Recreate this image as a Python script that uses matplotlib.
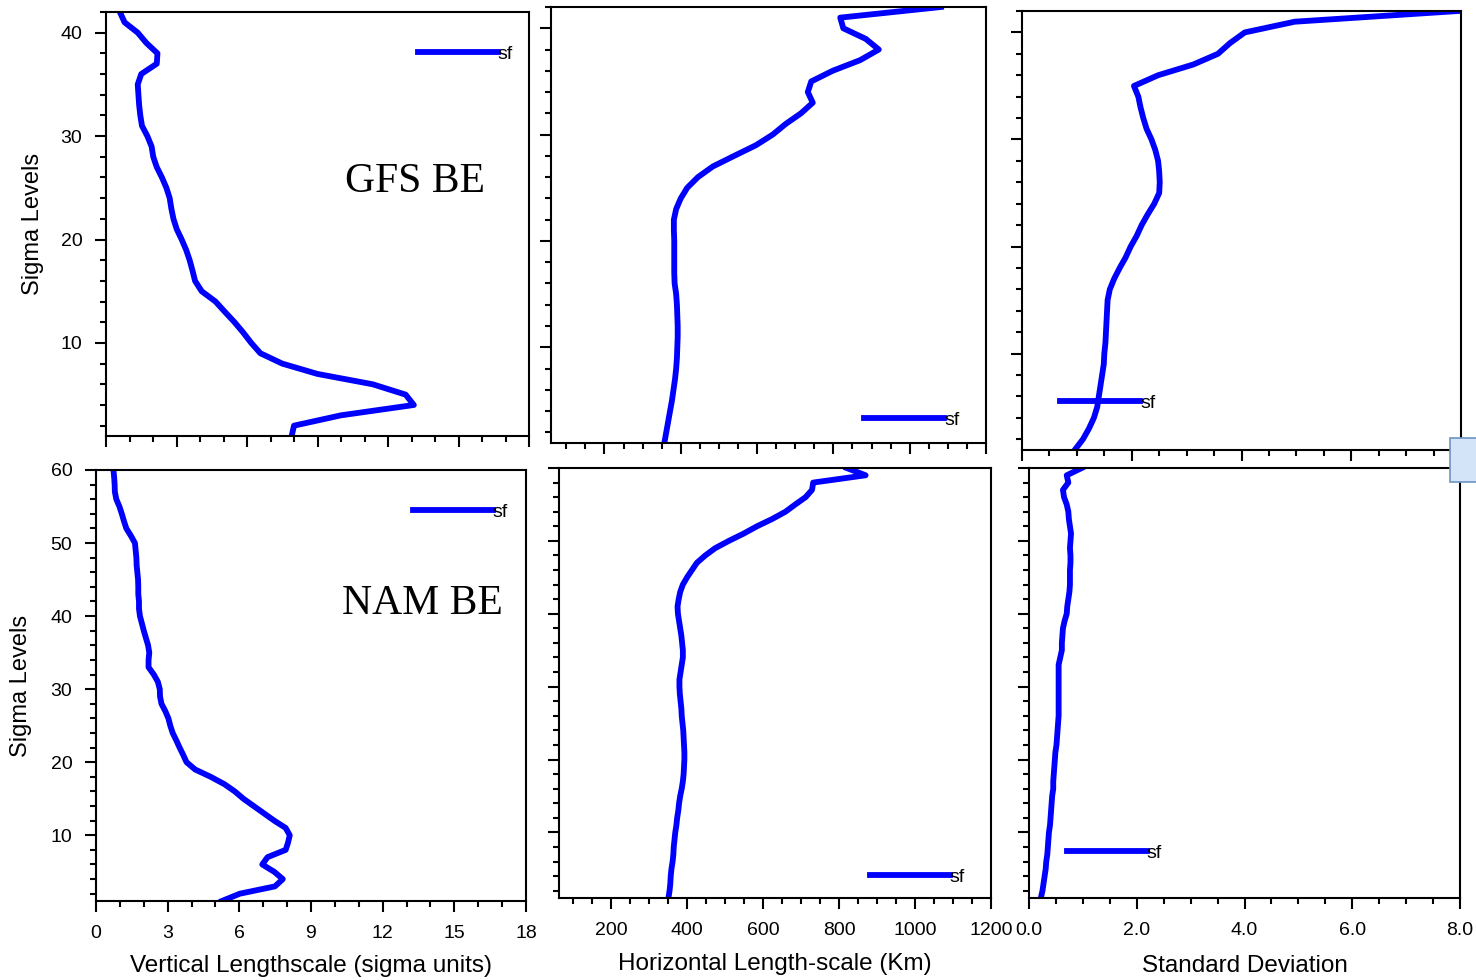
import numpy as np
import matplotlib.pyplot as plt
import matplotlib.patches as mpatches
from matplotlib.ticker import MultipleLocator, FormatStrFormatter

plt.rcParams['font.family'] = ['Liberation Sans', 'DejaVu Sans']

# Niveis sigma
lev_gfs = np.arange(1, 43)
lev_nam = np.arange(1, 61)

# GFS BE
gfs_vert = [7.9, 8.0, 10.0, 13.1, 12.75, 11.35, 9.0, 7.5, 6.57, 6.18,
            5.84, 5.47, 5.06, 4.66, 4.07, 3.79, 3.68, 3.56, 3.41, 3.22,
            3.01, 2.87, 2.78, 2.71, 2.57, 2.38, 2.16, 2.01, 1.94, 1.76,
            1.53, 1.46, 1.41, 1.38, 1.35, 1.5, 2.16, 2.19, 1.72, 1.35,
            0.79, 0.59]
gfs_horiz = [357, 362, 367, 372, 377, 381, 385, 388, 390, 391,
             392, 392, 391, 390, 388, 384, 383, 383, 383, 383,
             382, 382, 388, 400, 417, 445, 484, 540, 597, 641,
             675, 715, 746, 733, 742, 798, 870, 919, 885, 826,
             818, 1082]
gfs_std = [0.96, 1.11, 1.22, 1.31, 1.37, 1.40, 1.43, 1.46, 1.49, 1.50,
           1.52, 1.53, 1.54, 1.55, 1.56, 1.60, 1.68, 1.78, 1.89, 1.98,
           2.09, 2.18, 2.29, 2.41, 2.50, 2.51, 2.50, 2.48, 2.43, 2.36,
           2.27, 2.21, 2.16, 2.12, 2.04, 2.48, 3.12, 3.57, 3.79, 4.06,
           4.97, 7.95]

# NAM BE
nam_vert = [5.27, 6.02, 7.49, 7.82, 7.46, 6.96, 7.18, 7.94, 8.04, 8.11,
            7.94, 7.46, 7.03, 6.6, 6.17, 5.81, 5.37, 4.8, 4.15, 3.79,
            3.65, 3.5, 3.36, 3.21, 3.11, 3.03, 2.9, 2.74, 2.68, 2.67,
            2.59, 2.42, 2.2, 2.2, 2.23, 2.18, 2.09, 2.0, 1.92, 1.84,
            1.8, 1.8, 1.77, 1.77, 1.76, 1.73, 1.7, 1.69, 1.66, 1.63,
            1.46, 1.27, 1.17, 1.08, 0.98, 0.85, 0.79, 0.78, 0.76, 0.73]
nam_horiz = [351, 354, 356, 357, 359, 362, 364, 365, 367, 369,
             372, 374, 377, 379, 382, 386, 389, 391, 392, 393,
             393, 392, 391, 390, 388, 386, 385, 383, 381, 380,
             380, 383, 386, 389, 389, 387, 385, 382, 379, 376,
             375, 378, 382, 389, 400, 413, 426, 448, 474, 510,
             549, 584, 624, 659, 685, 712, 729, 732, 870, 820]
nam_std = [0.22, 0.25, 0.27, 0.29, 0.31, 0.32, 0.34, 0.35, 0.36, 0.37,
           0.39, 0.40, 0.41, 0.42, 0.43, 0.45, 0.45, 0.46, 0.47, 0.48,
           0.49, 0.51, 0.52, 0.53, 0.54, 0.55, 0.55, 0.55, 0.55, 0.55,
           0.55, 0.55, 0.55, 0.58, 0.61, 0.61, 0.62, 0.63, 0.66, 0.70,
           0.71, 0.73, 0.75, 0.76, 0.76, 0.76, 0.77, 0.77, 0.76, 0.77,
           0.78, 0.76, 0.74, 0.73, 0.70, 0.65, 0.63, 0.73, 0.70, 0.98]

W, H = 1476, 980
fig = plt.figure(figsize=(W / 100, H / 100), dpi=100)


def painel(x0, y0, x1, y1):
    # caixa em pixels -> fracao da figura
    return fig.add_axes([x0 / W, 1 - y1 / H, (x1 - x0) / W, (y1 - y0) / H])


def estilo(ax, xlim, ylim, xmaj, xmin):
    ax.set_xlim(*xlim)
    ax.set_ylim(*ylim)
    ax.xaxis.set_major_locator(MultipleLocator(xmaj))
    ax.xaxis.set_minor_locator(MultipleLocator(xmin))
    ax.yaxis.set_major_locator(MultipleLocator(10))
    ax.yaxis.set_minor_locator(MultipleLocator(2))
    ax.tick_params(which='both', direction='out', width=1.5, top=False, right=False)
    ax.tick_params(which='major', length=8, pad=9)
    ax.tick_params(which='minor', length=4)
    ax.tick_params(axis='y', labelsize=14)
    ax.tick_params(axis='x', labelsize=14)
    for sp in ax.spines.values():
        sp.set_linewidth(1.5)


def legenda(ax, x, y):
    ax.legend(['sf'], loc='center left', bbox_to_anchor=(x, y), frameon=False,
              handlelength=4.1, handletextpad=0.0, borderpad=0, borderaxespad=0,
              fontsize=14)


cor = '#0000ff'
lw = 4.2

# linha de cima: GFS
ax1 = painel(106, 12, 529, 436)
ax1.plot(gfs_vert, lev_gfs, color=cor, lw=lw)
estilo(ax1, (0, 18), (1, 42), 3, 1)
ax1.tick_params(labelbottom=False)
ax1.set_ylabel('Sigma Levels', fontsize=17, va='center')
ax1.yaxis.set_label_coords(-0.173, 0.5)
ax1.text(0.73, 0.6, 'GFS BE', transform=ax1.transAxes, fontsize=30,
         family='Liberation Serif', ha='center', va='center')
legenda(ax1, 0.738, 0.901)

ax2 = painel(551, 7, 986, 443)
ax2.plot(gfs_horiz, lev_gfs, color=cor, lw=lw)
estilo(ax2, (60, 1200), (1, 42), 200, 50)
ax2.tick_params(labelbottom=False, labelleft=False)
legenda(ax2, 0.72, 0.053)

ax3 = painel(1022, 11, 1461, 450)
ax3.plot(gfs_std, lev_gfs, color=cor, lw=lw)
estilo(ax3, (0, 8), (1, 42), 2, 0.5)
ax3.tick_params(labelbottom=False, labelleft=False)
legenda(ax3, 0.087, 0.107)

# linha de baixo: NAM
ax4 = painel(96, 470, 526, 901)
ax4.plot(nam_vert, lev_nam, color=cor, lw=lw)
estilo(ax4, (0, 18), (1, 60), 3, 1)
ax4.set_ylabel('Sigma Levels', fontsize=17, va='center')
ax4.yaxis.set_label_coords(-0.174, 0.5)
ax4.set_xlabel('Vertical Lengthscale (sigma units)', fontsize=17.5, va='center')
ax4.xaxis.set_label_coords(0.5, -0.151)
ax4.text(0.76, 0.69, 'NAM BE', transform=ax4.transAxes, fontsize=30,
         family='Liberation Serif', ha='center', va='center')
legenda(ax4, 0.737, 0.903)

ax5 = painel(559, 468, 991, 898)
ax5.plot(nam_horiz, lev_nam, color=cor, lw=lw)
estilo(ax5, (63, 1200), (1, 60), 200, 50)
ax5.tick_params(labelleft=False)
ax5.set_xlabel('Horizontal Length-scale (Km)', fontsize=17.5, va='center')
ax5.xaxis.set_label_coords(0.5, -0.153)
legenda(ax5, 0.72, 0.049)

ax6 = painel(1029, 468, 1460, 898)
ax6.plot(nam_std, lev_nam, color=cor, lw=lw)
estilo(ax6, (0, 8), (1, 60), 2, 0.5)
ax6.tick_params(labelleft=False)
ax6.xaxis.set_major_formatter(FormatStrFormatter('%.1f'))
ax6.set_xlabel('Standard Deviation', fontsize=17.5, va='center')
ax6.xaxis.set_label_coords(0.5, -0.158)
legenda(ax6, 0.088, 0.105)

# caixinha azul no canto (resto de captura de tela)
fig.patches.append(mpatches.Rectangle((1450 / W, 1 - 482 / H), 30 / W, 44 / H,
                                      transform=fig.transFigure, facecolor='#d3e3f8',
                                      edgecolor='#6d93c4', lw=1.2, zorder=10))

plt.savefig('out.png', dpi=100)
